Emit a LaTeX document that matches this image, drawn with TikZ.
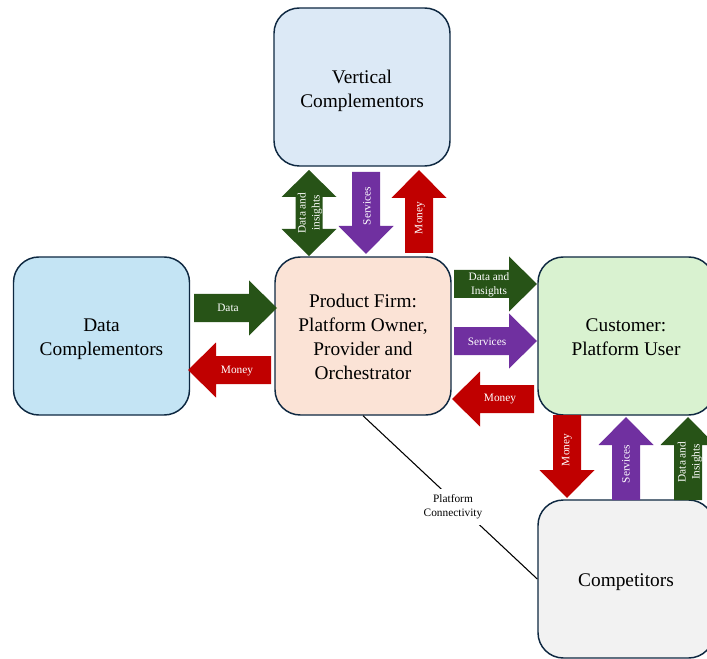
\documentclass[tikz,border=0pt]{standalone}
\usepackage{fontspec}
\setmainfont{Liberation Serif}
\definecolor{edge}{HTML}{0E2841}
\definecolor{vcfill}{HTML}{DCE9F6}
\definecolor{dcfill}{HTML}{C4E4F4}
\definecolor{pffill}{HTML}{FBE3D6}
\definecolor{cufill}{HTML}{D9F2D0}
\definecolor{cofill}{HTML}{F2F2F2}
\definecolor{agreen}{HTML}{275317}
\definecolor{apurple}{HTML}{7030A0}
\definecolor{ared}{HTML}{C00000}

% horizontal block arrow: tail x, tip x, centre y, colour
\newcommand\harr[4]{%
  \pgfmathsetmacro\hb{#2>#1 ? #2-28 : #2+28}%
  \fill[#4] (#1,#3-14) -- (\hb,#3-14) -- (\hb,#3-27.5) -- (#2,#3)
    -- (\hb,#3+27.5) -- (\hb,#3+14) -- (#1,#3+14) -- cycle;}
% vertical block arrow: centre x, tail y, tip y, colour
\newcommand\varr[4]{%
  \pgfmathsetmacro\hb{#3>#2 ? #3-28 : #3+28}%
  \fill[#4] (#1-14,#2) -- (#1-14,\hb) -- (#1-27.5,\hb) -- (#1,#3)
    -- (#1+27.5,\hb) -- (#1+14,\hb) -- (#1+14,#2) -- cycle;}
% vertical double-headed block arrow: centre x, lower tip y, upper tip y, colour
\newcommand\dvarr[4]{%
  \fill[#4] (#1,#2) -- (#1+27.5,#2+27) -- (#1+13.5,#2+27) -- (#1+13.5,#3-27)
    -- (#1+27.5,#3-27) -- (#1,#3) -- (#1-27.5,#3-27) -- (#1-13.5,#3-27)
    -- (#1-13.5,#2+27) -- (#1-27.5,#2+27) -- cycle;}

\begin{document}
\begin{tikzpicture}[x=0.75pt,y=0.75pt,
  party/.style={draw=edge,line width=1.1pt,rounded corners=19pt,
    minimum width=176*0.75pt,minimum height=158*0.75pt,inner sep=0pt},
  partytext/.style={align=center,inner sep=0pt,
    font=\fontsize{14.5}{18}\selectfont},
  alabel/.style={text=white,align=center,inner sep=0pt,
    font=\fontsize{8.5}{10.5}\selectfont},
  vlabel/.style={alabel,rotate=90},
  linklabel/.style={fill=white,align=center,inner sep=4pt,
    font=\fontsize{8.5}{10.5}\selectfont}]
\useasboundingbox (0,0) rectangle (707,658);
\clip (0,0) rectangle (707,658);

% parties
\node[party,fill=vcfill] (vc) at (362,571) {};
\node[party,fill=dcfill] (dc) at (101.5,322) {};
\node[party,fill=pffill] (pf) at (363,322) {};
\node[party,fill=cufill] (cu) at (626,322) {};
\node[party,fill=cofill] (co) at (626,79) {};
\node[partytext,yshift=-2.6pt] (vct) at (vc) {Vertical\\Complementors};
\node[partytext,yshift=-2.6pt] (dct) at (dc) {Data\\Complementors};
\node[partytext,yshift=-0.75pt] (pft) at (pf) {Product Firm:\\Platform Owner,\\Provider and\\Orchestrator};
\node[partytext,yshift=-0.75pt] (cut) at (cu) {Customer:\\Platform User};
\node[partytext,yshift=-2.3pt] (cot) at (co) {Competitors};

% platform connectivity link
\draw[line width=0.8pt] (pf.south) -- (co.west);
\node[linklabel] (pcl) at (453,151) {Platform\\Connectivity};

% vertical complementors <-> product firm
\dvarr{309}{402}{488}{agreen}
\varr{366}{486}{404}{apurple}
\varr{419}{405}{488}{ared}
\node[vlabel] (l1) at (310,445) {Data and\\insights};
\node[vlabel] (l2) at (367,452) {Services};
\node[vlabel] (l3) at (420,440) {Money};

% data complementors <-> product firm
\harr{194}{277}{350}{agreen}
\harr{271}{188}{288}{ared}
\node[alabel] (l4) at (228,350) {Data};
\node[alabel] (l5) at (237,287) {Money};

% product firm <-> customer
\harr{454}{537}{374}{agreen}
\harr{454}{537}{317}{apurple}
\harr{534}{452}{259}{ared}
\node[alabel] (l6) at (489,373) {Data and\\Insights};
\node[alabel] (l7) at (487,316) {Services};
\node[alabel] (l8) at (500,259) {Money};

% customer <-> competitors
\varr{567}{243}{160}{ared}
\varr{626}{158}{241}{apurple}
\varr{688}{158}{241}{agreen}
\node[vlabel] (l9) at (567,208) {Money};
\node[vlabel] (l10) at (626,194) {Services};
\node[vlabel] (l11) at (690,196) {Data and\\Insights};
\end{tikzpicture}
\end{document}
